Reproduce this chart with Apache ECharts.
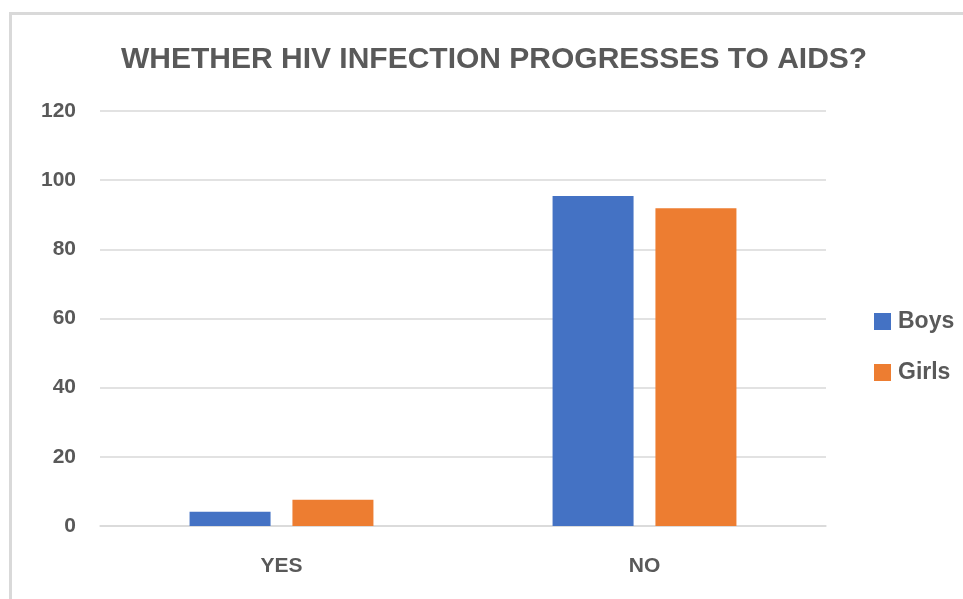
<!DOCTYPE html>
<html>
<head>
<meta charset="utf-8">
<script src="https://cdn.jsdelivr.net/npm/echarts@6/dist/echarts.min.js"></script>
<style>
  html, body { margin: 0; padding: 0; background: #fff; overflow: hidden; }
  #frame { position: absolute; left: 9px; top: 12px; width: 1000px; height: 700px; border: 3px solid #d9d9d9; box-sizing: border-box; }
  #main { position: absolute; left: 0; top: 0; width: 963px; height: 599px; }
</style>
</head>
<body>
<div id="frame"></div>
<div id="main"></div>
<script>
// chart data
var categories = ['YES', 'NO'];
var boys = [4.1, 95.4];
var girls = [7.6, 91.9];
var yTicks = [0, 20, 40, 60, 80, 100, 120];

var textColor = '#595959';
var font = '"Liberation Sans", Arial, sans-serif';

var chart = echarts.init(document.getElementById('main'));
chart.setOption({
    animation: false,
    color: ['#4472C4', '#ED7D31'],
    title: {
        text: 'WHETHER HIV INFECTION PROGRESSES TO AIDS?',
        left: 116,
        top: 40,
        textStyle: { color: textColor, fontSize: 30, fontWeight: 'bold', fontFamily: font }
    },
    legend: {
        orient: 'vertical',
        left: 869,
        top: 305,
        itemWidth: 17,
        itemHeight: 17,
        itemGap: 28,
        icon: 'rect',
        textStyle: { color: textColor, fontSize: 23, fontWeight: 'bold', fontFamily: font, padding: [0, 0, 0, 2] },
        data: ['Boys', 'Girls']
    },
    grid: { left: 100, right: 137, top: 111, bottom: 73 },
    xAxis: {
        type: 'category',
        data: categories,
        axisLine: { lineStyle: { color: '#d9d9d9', width: 1.5 } },
        axisTick: { show: false },
        axisLabel: { color: textColor, fontSize: 21, fontWeight: 'bold', fontFamily: font, margin: 30 }
    },
    yAxis: {
        type: 'value',
        min: yTicks[0],
        max: yTicks[yTicks.length - 1],
        interval: 20,
        axisLine: { show: false },
        axisTick: { show: false },
        splitLine: { lineStyle: { color: '#d9d9d9', width: 1.5 } },
        axisLabel: { color: textColor, fontSize: 21, fontWeight: 'bold', fontFamily: font, margin: 24 }
    },
    series: [
        { name: 'Boys', type: 'bar', data: boys, barWidth: 81, barGap: '27%' },
        { name: 'Girls', type: 'bar', data: girls, barWidth: 81, barGap: '27%' }
    ]
});
</script>
</body>
</html>
